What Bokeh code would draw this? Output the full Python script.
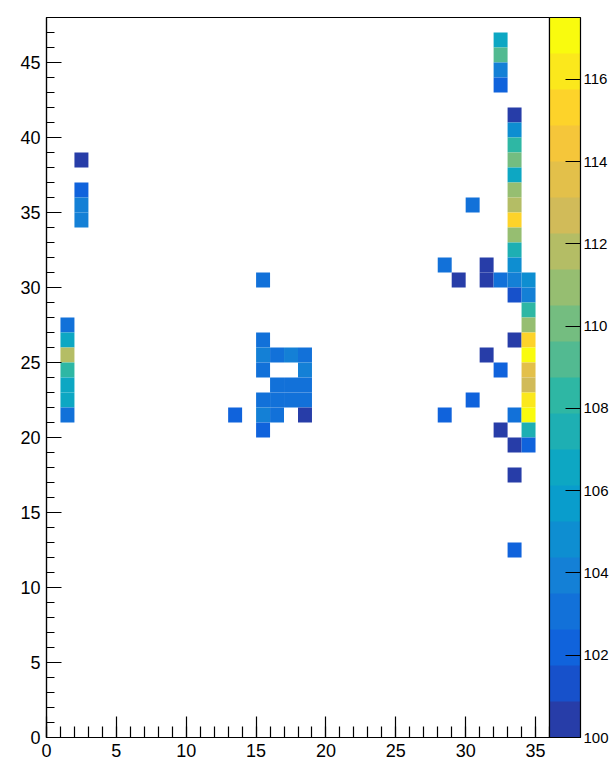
import numpy as np
from bokeh.plotting import figure
from bokeh.models import (LinearColorMapper, ColorBar, FixedTicker,
                          SingleIntervalTicker, Range1d, ColumnDataSource)
from bokeh.embed import file_html
from bokeh.resources import INLINE

# ---- data: (x bin lower edge, y bin lower edge, content) ----
x_bins = [1, 1, 1, 1, 1, 1, 1,
          2, 2, 2, 2,
          15,
          15, 15, 16, 17, 18, 15, 18, 16, 17, 18, 15, 16, 17, 18, 13, 15, 16, 18, 15,
          28, 28, 29, 30, 30, 31, 31, 31,
          32, 32, 32, 32, 32, 32, 32,
          33, 33, 33, 33, 33, 33, 33, 33, 33, 33, 33, 33, 33, 33, 33, 33, 33, 33,
          34, 34, 34, 34, 34, 34, 34, 34, 34, 34, 34, 34]
y_bins = [27, 26, 25, 24, 23, 22, 21,
          38, 36, 35, 34,
          30,
          26, 25, 25, 25, 25, 24, 24, 23, 23, 23, 22, 22, 22, 22, 21, 21, 21, 21, 20,
          31, 21, 30, 35, 22, 31, 30, 25,
          46, 45, 44, 43, 30, 24, 20,
          41, 40, 39, 38, 37, 36, 35, 34, 33, 32, 31, 30, 29, 26, 21, 19, 17, 12,
          30, 29, 28, 27, 26, 25, 24, 23, 22, 21, 20, 19]
contents = [103.5, 106.6, 111.8, 108.0, 106.2, 106.8, 103.5,
            100.4, 102.6, 104.0, 104.0,
            103.0,
            103.0, 103.6, 103.0, 103.6, 103.0, 103.0, 103.6, 103.5, 103.5, 103.5,
            103.0, 103.5, 103.0, 103.5, 102.0, 103.8, 103.0, 100.4, 101.8,
            103.5, 102.0, 100.4, 103.4, 102.0, 100.4, 100.4, 100.4,
            106.5, 109.2, 104.2, 102.0, 103.4, 102.0, 100.4,
            100.4, 104.8, 108.5, 110.1, 106.6, 110.9, 111.8, 114.9, 110.9, 107.4,
            105.0, 104.3, 101.5, 100.4, 103.5, 100.4, 100.4, 101.8,
            105.0, 104.3, 108.5, 110.9, 114.9, 117.1, 113.6, 112.7, 116.4, 117.2,
            107.6, 101.9]

z_ticks = [100, 102, 104, 106, 108, 110, 112, 114, 116]
z_min, z_max = 100.0, 117.5
n_levels = 20

# ---- ROOT kBird palette, 20 contour colours ----
stops = [0.0, 0.125, 0.25, 0.375, 0.5, 0.625, 0.75, 0.875, 1.0]
red = [0.2082, 0.0592, 0.0780, 0.0232, 0.1802, 0.5301, 0.8186, 0.9956, 0.9764]
green = [0.1664, 0.3599, 0.5041, 0.6419, 0.7178, 0.7492, 0.7328, 0.7862, 0.9832]
blue = [0.5293, 0.8684, 0.8385, 0.7914, 0.6425, 0.4662, 0.3499, 0.1968, 0.0539]
ncol = 255
pal = []
for k in range(n_levels):
    idx = int((k + 0.99) * ncol / n_levels)
    idx = min(idx, ncol - 1)
    t = idx / (ncol - 1)
    r = np.interp(t, stops, red)
    g = np.interp(t, stops, green)
    b = np.interp(t, stops, blue)
    pal.append("#%02x%02x%02x" % (int(round(r * 255)), int(round(g * 255)), int(round(b * 255))))

mapper = LinearColorMapper(palette=pal, low=z_min, high=z_max)

src = ColumnDataSource(dict(
    x=[v + 0.5 for v in x_bins],
    y=[v + 0.5 for v in y_bins],
    z=contents,
))

FONT = "Liberation Sans"

p = figure(frame_width=503, frame_height=720,
           x_range=Range1d(0, 36), y_range=Range1d(0, 48),
           output_backend="svg", toolbar_location=None,
           min_border_left=46, min_border_top=17, min_border_bottom=30,
           min_border_right=0)

p.rect(x="x", y="y", width=1, height=1, source=src,
       fill_color={"field": "z", "transform": mapper}, line_color=None)

p.xgrid.visible = False
p.ygrid.visible = False
p.outline_line_color = "black"
p.outline_line_width = 1.2
p.background_fill_color = "white"
p.border_fill_color = "white"

p.xaxis.ticker = SingleIntervalTicker(interval=5, num_minor_ticks=5)
p.yaxis.ticker = SingleIntervalTicker(interval=5, num_minor_ticks=5)
for ax in (p.xaxis, p.yaxis):
    ax.major_tick_out = 0
    ax.minor_tick_out = 0
    ax.axis_line_color = "black"
    ax.axis_line_width = 1.2
    ax.major_tick_line_color = "black"
    ax.minor_tick_line_color = "black"
    ax.major_tick_line_width = 1.2
    ax.minor_tick_line_width = 1.2
    ax.major_label_text_font = FONT
    ax.major_label_text_font_size = "18px"
    ax.major_label_text_color = "black"
p.xaxis.major_tick_in = 21
p.xaxis.minor_tick_in = 11
p.yaxis.major_tick_in = 15
p.yaxis.minor_tick_in = 8
p.xaxis.major_label_standoff = 6
p.yaxis.major_label_standoff = 6

cb = ColorBar(color_mapper=mapper, width=31, padding=0, margin=0,
              ticker=FixedTicker(ticks=z_ticks),
              major_label_text_font=FONT, major_label_text_font_size="15px",
              major_label_text_color="black",
              major_tick_in=15, major_tick_out=0,
              major_tick_line_color="black", major_tick_line_width=1.2,
              minor_tick_line_color=None,
              bar_line_color="black", bar_line_width=1.2,
              label_standoff=3, border_line_color=None,
              background_fill_color="white")
p.add_layout(cb, "right")

open("out.html", "w").write(file_html(p, INLINE))
